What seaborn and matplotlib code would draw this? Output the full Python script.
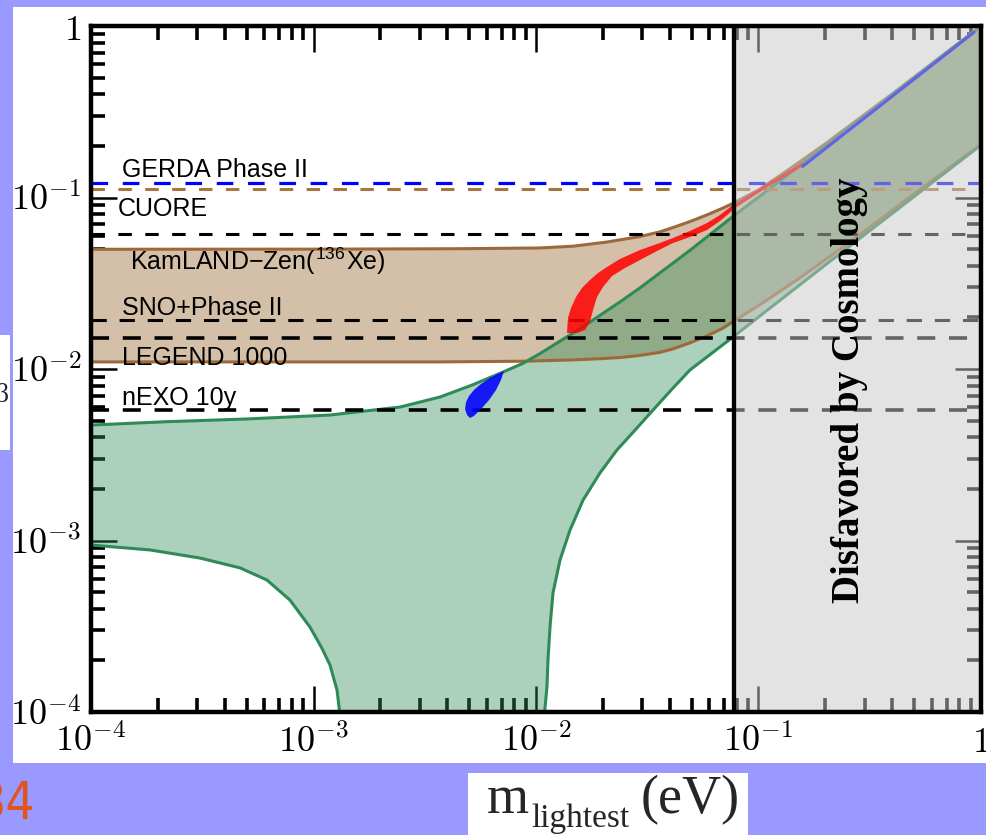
import matplotlib
matplotlib.use("Agg")
import matplotlib.pyplot as plt
from matplotlib.patches import Rectangle
from matplotlib.ticker import NullFormatter, LogLocator
import seaborn as sns

sns.set_style("ticks")
plt.rcParams["font.family"] = ["Liberation Sans", "DejaVu Sans"]
plt.rcParams["mathtext.fontset"] = "cm"

# ---- Inverted ordering band: m_lightest [eV] vs m_bb [eV] ----
io_upper_m = [1e-4, 1.19e-3, 4.70e-3, 0.01042, 0.01467, 0.02085, 0.0293, 0.0360, 0.0413,
              0.0492, 0.0587, 0.0692, 0.0768, 0.1, 0.13, 0.2, 0.4, 1.0]
io_upper_mbb = [0.0499, 0.0500, 0.0503, 0.0508, 0.0520, 0.0550, 0.0592, 0.0630, 0.0668,
                0.0724, 0.0792, 0.0868, 0.0925, 0.1106, 0.139, 0.206, 0.403, 1.0]
io_lower_m = [1e-4, 1e-3, 3.71e-3, 8.75e-3, 0.01467, 0.0200, 0.0246, 0.0293, 0.0360, 0.0413,
              0.0492, 0.0587, 0.0692, 0.0768, 0.1, 0.1537, 0.258, 0.5, 1.0]
io_lower_mbb = [0.0110, 0.0110, 0.0110, 0.0111, 0.0113, 0.0115, 0.0117, 0.0120, 0.0125, 0.0131,
                0.0142, 0.0156, 0.0173, 0.0189, 0.0234, 0.034, 0.055, 0.105, 0.204]

# ---- Normal ordering band ----
no_upper_m = [1e-4, 2.20e-4, 4.98e-4, 1.186e-3, 2.45e-3, 3.71e-3, 5.21e-3, 7.11e-3, 8.75e-3,
              0.01042, 0.01467, 0.0175, 0.0246, 0.0293, 0.0492, 0.0768, 0.1, 0.2, 1.0]
no_upper_mbb = [0.00471, 0.00493, 0.00511, 0.00539, 0.0060, 0.00687, 0.0081, 0.0096, 0.0108,
                0.0123, 0.0162, 0.0188, 0.0253, 0.0297, 0.0492, 0.0775, 0.1005, 0.2, 1.0]
no_low_left_m = [1e-4, 1.84e-4, 3.09e-4, 4.68e-4, 6.18e-4, 7.83e-4, 9.64e-4, 1.09e-3, 1.186e-3,
                 1.276e-3, 1.31e-3, 1.38e-3]
no_low_left_mbb = [9.41e-4, 8.81e-4, 7.9e-4, 6.92e-4, 5.88e-4, 4.50e-4, 3.13e-4, 2.36e-4, 1.88e-4,
                   1.34e-4, 1.0e-4, 1e-5]
no_low_right_m = [0.0107, 0.01096, 0.01120, 0.01132, 0.01156, 0.01192, 0.01282, 0.01422, 0.01627,
                  0.01940, 0.02311, 0.02843, 0.0336, 0.0413, 0.0492, 0.0768, 0.2, 1.0]
no_low_right_mbb = [1e-5, 1.03e-4, 1.40e-4, 2.01e-4, 3.13e-4, 4.94e-4, 7.7e-4, 1.15e-3, 1.72e-3,
                    2.48e-3, 3.37e-3, 4.53e-3, 5.77e-3, 7.75e-3, 9.87e-3, 0.01537, 0.0405, 0.2024]

# ---- Highlighted regions ----
red_m = [0.01378, 0.01392, 0.01437, 0.01513, 0.01609, 0.01748, 0.01900, 0.02085, 0.02385,
         0.02934, 0.03499, 0.04127, 0.04920, 0.05868, 0.06714, 0.07680,
         0.07680, 0.06714, 0.05868, 0.04920, 0.04127, 0.03499, 0.02934, 0.02512, 0.02196,
         0.02000, 0.01880, 0.01804, 0.01748, 0.01661, 0.01528]
red_mbb = [0.01622, 0.01983, 0.02268, 0.02629, 0.02967, 0.03304, 0.03629, 0.03934, 0.04379,
           0.04941, 0.05356, 0.05803, 0.06378, 0.07101, 0.07906, 0.09042,
           0.08455, 0.07295, 0.06463, 0.05884, 0.05429, 0.04875, 0.04321, 0.03880, 0.03485,
           0.03007, 0.02629, 0.02208, 0.01879, 0.01688, 0.01622]
red_line_m = [0.0768, 0.109, 0.158]
red_line_mbb = [0.0875, 0.117, 0.156]
blue_m = [7.18e-3, 6.96e-3, 6.61e-3, 6.15e-3, 5.66e-3, 5.26e-3, 5.05e-3, 4.90e-3, 4.80e-3,
          4.85e-3, 5.00e-3, 5.26e-3, 5.66e-3, 6.21e-3, 6.75e-3]
blue_mbb = [9.73e-3, 8.63e-3, 7.54e-3, 6.59e-3, 5.84e-3, 5.32e-3, 5.18e-3, 5.39e-3, 5.84e-3,
            6.42e-3, 6.96e-3, 7.54e-3, 8.18e-3, 8.86e-3, 9.35e-3]
blue_line_m = [0.158, 0.93]
blue_line_mbb = [0.152, 0.92]

# ---- Experimental sensitivities ----
exp_names = ["GERDA Phase II", "CUORE", "KamLAND\u2212Zen($^{\\mathregular{136}}$Xe)",
             "SNO+Phase II", "LEGEND 1000", "nEXO 10y"]
exp_limits = [0.1215, 0.1116, 0.0612, 0.0193, 0.0152, 0.00577]
exp_colors = ["#0000ff", "#a67540", "black", "black", "black", "black"]
exp_lw = [2.3, 2.2, 2.2, 2.2, 2.6, 2.6]
exp_dashes = [(5.2, 4.6), (4.4, 4.4), (4.4, 4.4), (5.0, 4.2), (5.0, 3.8), (5.0, 3.8)]
# label anchor: (x in axes fraction, baseline in data units)
exp_label_x = [0.0348, 0.0303, 0.0438, 0.0348, 0.0348, 0.0348]
exp_label_y = [0.1317, 0.078, 0.0378, 0.02065, 0.01055, 0.00617]

cosmo_limit = 0.078

x_tick_values = [1e-4, 1e-3, 1e-2, 1e-1, 1.0]
x_tick_labels = [r"$10^{-4}$", r"$10^{-3}$", r"$10^{-2}$", r"$10^{-1}$", r"$1$"]
y_tick_values = [1e-4, 1e-3, 1e-2, 1e-1, 1.0]
y_tick_labels = [r"$10^{-4}$", r"$10^{-3}$", r"$10^{-2}$", r"$10^{-1}$", r"$1$"]

W, H = 987, 835
fig = plt.figure(figsize=(W / 100, H / 100), dpi=100, facecolor="#9999ff")


def px_rect(x0, y0, x1, y1, color="white"):
    fig.patches.append(Rectangle((x0 / W, 1 - y1 / H), (x1 - x0) / W, (y1 - y0) / H,
                                 transform=fig.transFigure, facecolor=color,
                                 edgecolor="none", zorder=-1))


px_rect(13, 7, W, 763)
px_rect(0, 335, 10, 450)
px_rect(468, 773, 748, H)

ax = fig.add_axes([91 / W, 1 - 712 / H, 890 / W, 686 / H])
ax.set_facecolor("white")
ax.set_xscale("log")
ax.set_yscale("log")
ax.set_xlim(1e-4, 1.0)
ax.set_ylim(1e-4, 1.0)

brown_fill = "#d4bfa8"
brown_edge = "#9c6a3a"
green = "#2e8b57"

# bands
ax.fill(io_upper_m + io_lower_m[::-1], io_upper_mbb + io_lower_mbb[::-1],
        facecolor=brown_fill, edgecolor="none", zorder=1.0)
ax.fill(no_upper_m + no_low_right_m[::-1] + no_low_left_m[::-1],
        no_upper_mbb + no_low_right_mbb[::-1] + no_low_left_mbb[::-1],
        facecolor=green, alpha=0.4, edgecolor="none", zorder=1.1)

for xs, ys, c in [(io_upper_m, io_upper_mbb, brown_edge), (io_lower_m, io_lower_mbb, brown_edge),
                  (no_upper_m, no_upper_mbb, green), (no_low_left_m, no_low_left_mbb, green),
                  (no_low_right_m, no_low_right_mbb, green)]:
    sns.lineplot(x=xs, y=ys, sort=False, estimator=None, color=c, lw=2.2,
                 ax=ax, legend=False, zorder=1.2)

# sensitivity lines and labels
for name, v, c, lw, d, lx, ly in zip(exp_names, exp_limits, exp_colors, exp_lw,
                                     exp_dashes, exp_label_x, exp_label_y):
    ax.axhline(v, color=c, lw=lw, dashes=d, zorder=1.3)
    ax.text(lx, ly, name, transform=ax.get_yaxis_transform(), ha="left", va="baseline",
            fontsize=18, color="black", zorder=2.0)

# favoured regions
ax.fill(red_m, red_mbb, facecolor="#ff0000", alpha=0.85, edgecolor="none", zorder=1.4)
ax.fill(blue_m, blue_mbb, facecolor="#0000ff", alpha=0.88, edgecolor="none", zorder=1.5)
sns.lineplot(x=red_line_m, y=red_line_mbb, sort=False, estimator=None, color="#ff0000",
             lw=2.3, ax=ax, legend=False, zorder=1.6)
sns.lineplot(x=blue_line_m, y=blue_line_mbb, sort=False, estimator=None, color="#0000ff",
             lw=2.3, ax=ax, legend=False, zorder=1.6)

# cosmology exclusion
ax.axvspan(cosmo_limit, 1.0, facecolor="#c8c8c8", alpha=0.5, lw=0, zorder=1.8)
ax.axvline(cosmo_limit, color="black", lw=3.1, zorder=1.9)
ax.text(0.8517, 0.4694, "Disfavored by Cosmology", transform=ax.transAxes, rotation=90,
        ha="center", va="center", fontsize=28, fontweight="bold",
        family="Liberation Serif", color="black", zorder=2.0)

# axes styling
ax.set_xticks(x_tick_values)
ax.set_xticklabels(x_tick_labels)
ax.set_yticks(y_tick_values)
ax.set_yticklabels(y_tick_labels)
for axis in (ax.xaxis, ax.yaxis):
    axis.set_minor_locator(LogLocator(base=10, subs=range(2, 10), numticks=20))
    axis.set_minor_formatter(NullFormatter())
for sp in ax.spines.values():
    sp.set_visible(True)
    sp.set_color("black")
    sp.set_linewidth(3.2)
ax.tick_params(which="both", direction="in", top=True, right=True, color="black")
ax.tick_params(which="major", length=19, width=1.8, labelsize=26, labelcolor="black")
ax.tick_params(which="minor", length=10, width=2.6)
ax.tick_params(axis="x", which="major", pad=9)
ax.tick_params(axis="y", which="major", pad=7)
ax.set_xlabel("")
ax.set_ylabel("")

# axis title pieces and page decorations
fig.text(487 / W, 1 - 813 / H, "m", fontsize=39, family="Liberation Serif",
         ha="left", va="baseline")
fig.text(531 / W, 1 - 827 / H, "lightest", fontsize=24, family="Liberation Serif",
         ha="left", va="baseline")
fig.text(641 / W, 1 - 813 / H, "(eV)", fontsize=39, family="Liberation Serif",
         ha="left", va="baseline")
fig.text(8 / W, 1 - 395 / H, "\u03b2", fontsize=20, family="Liberation Serif",
         ha="right", va="center", color="#222244")
fig.text(35 / W, 1 - 820 / H, "34", fontsize=37, family="DejaVu Sans",
         fontstretch="condensed", ha="right", va="baseline", color="#e2541e")

fig.savefig("out.png", dpi=100, facecolor=fig.get_facecolor())
